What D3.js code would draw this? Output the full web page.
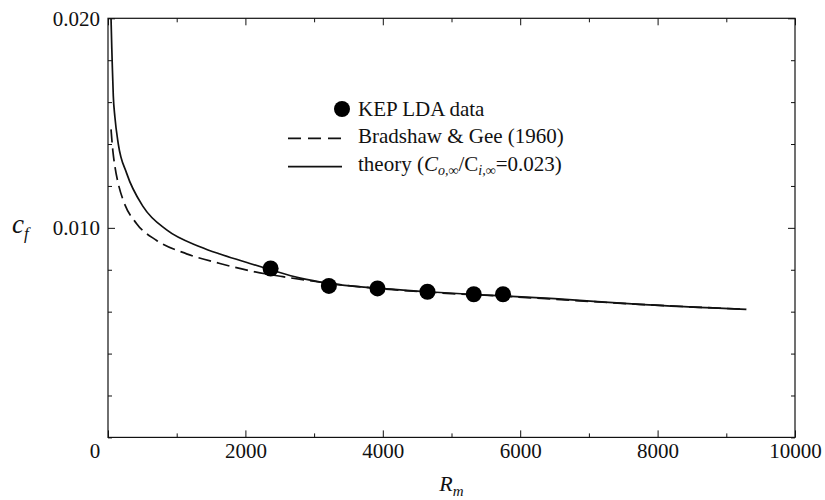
<!DOCTYPE html>
<html><head><meta charset="utf-8">
<script src="https://cdn.jsdelivr.net/npm/d3@7"></script>
<style>body{margin:0;background:#fff}</style>
</head><body><svg id="c" width="825" height="500"></svg>
<script>
// ---- data ----
const kepR  = [2367, 3215, 3923, 4650, 5324, 5750];
const kepCf = [0.00806, 0.00723, 0.00711, 0.00695, 0.00683, 0.00683];

const theoryR  = [44, 55, 63, 77, 100, 150, 272, 514, 854, 1338, 1629, 2065, 2367, 2800, 3215, 3923, 4650, 5324, 5750, 6500, 7738, 9290];
const theoryCf = [0.0200, 0.0186, 0.0177, 0.0163, 0.0153, 0.0140, 0.0126, 0.0110, 0.0099, 0.0091, 0.00875, 0.0083, 0.0080, 0.0076, 0.00735, 0.00712, 0.00695, 0.00682, 0.00675, 0.00662, 0.00635, 0.00611];

const bgR  = [44, 70, 102, 150, 223, 417, 708, 1144, 1629, 2065, 2545, 2865, 3490, 4145, 4650, 5750, 7738, 9290];
const bgCf = [0.0147, 0.0137, 0.0129, 0.0121, 0.0113, 0.0102, 0.0094, 0.00876, 0.0083, 0.00795, 0.00767, 0.00751, 0.00725, 0.00705, 0.00693, 0.00674, 0.00635, 0.00611];

const xMajor = [0, 2000, 4000, 6000, 8000, 10000];
const xMinor = [1000, 3000, 5000, 7000, 9000];
const yMajor = [0.010, 0.020];
const yMinor = [0, 0.002, 0.004, 0.006, 0.008, 0.012, 0.014, 0.016, 0.018];
const legendLabels = ["KEP LDA data", "Bradshaw & Gee (1960)"];

// ---- layout ----
const svg = d3.select("#c");
const L = 108, R = 795, T = 18.3, B = 437.4;
const x = d3.scaleLinear().domain([0, 10000]).range([L, R]);
const y = d3.scaleLinear().domain([0, 0.020]).range([B, T]);
const ink = "#111";
const FONT = "Liberation Serif";

svg.append("defs").append("clipPath").attr("id", "clip")
  .append("rect").attr("x", L).attr("y", T).attr("width", R - L).attr("height", B - T);

function styleAxis(g) {
  g.select(".domain").remove();
  g.selectAll("line").attr("stroke", ink).attr("stroke-width", 1);
  g.selectAll("text").style("font-family", FONT).style("font-size", "21px").attr("fill", ink);
}

// bottom axis
svg.append("g").attr("transform", `translate(0,${B})`)
  .call(d3.axisBottom(x).tickValues(xMajor).tickSize(-7).tickPadding(6)
    .tickFormat(d => d === 0 ? "" : d3.format("d")(d)))
  .call(styleAxis);
svg.append("g").attr("transform", `translate(0,${B})`)
  .call(d3.axisBottom(x).tickValues(xMinor).tickSize(-4).tickFormat(""))
  .call(styleAxis);
// top axis
svg.append("g").attr("transform", `translate(0,${T})`)
  .call(d3.axisTop(x).tickValues(xMajor).tickSize(-7).tickFormat(""))
  .call(styleAxis);
svg.append("g").attr("transform", `translate(0,${T})`)
  .call(d3.axisTop(x).tickValues(xMinor).tickSize(-4).tickFormat(""))
  .call(styleAxis);
// left axis
svg.append("g").attr("transform", `translate(${L},0)`)
  .call(d3.axisLeft(y).tickValues(yMajor).tickSize(-7).tickPadding(8).tickFormat(d3.format(".3f")))
  .call(styleAxis);
svg.append("g").attr("transform", `translate(${L},0)`)
  .call(d3.axisLeft(y).tickValues(yMinor).tickSize(-4).tickFormat(""))
  .call(styleAxis);
// right axis
svg.append("g").attr("transform", `translate(${R},0)`)
  .call(d3.axisRight(y).tickValues(yMajor).tickSize(-7).tickFormat(""))
  .call(styleAxis);
svg.append("g").attr("transform", `translate(${R},0)`)
  .call(d3.axisRight(y).tickValues(yMinor).tickSize(-4).tickFormat(""))
  .call(styleAxis);

// frame
svg.append("rect").attr("x", L).attr("y", T).attr("width", R - L).attr("height", B - T)
  .attr("fill", "none").attr("stroke", ink).attr("stroke-width", 1.2);

function txt(sel) { return sel.style("font-family", FONT).attr("fill", ink); }

// origin label
txt(svg.append("text")).attr("x", 95).attr("y", 458).attr("text-anchor", "middle")
  .style("font-size", "21px").text("0");

// axis titles
const xt = txt(svg.append("text")).attr("x", x(5000)).attr("y", 491).attr("text-anchor", "middle")
  .style("font-size", "22px");
xt.append("tspan").style("font-style", "italic").text("R");
xt.append("tspan").style("font-style", "italic").style("font-size", "15px").attr("dy", 5).text("m");

const yt = txt(svg.append("text")).attr("x", 12).attr("y", 233).style("font-size", "27px");
yt.append("tspan").style("font-style", "italic").text("c");
yt.append("tspan").style("font-style", "italic").style("font-size", "17px").attr("dy", 6).text("f");

// curves
const line = d3.line().x(d => x(d[0])).y(d => y(d[1])).curve(d3.curveMonotoneX);
const plot = svg.append("g").attr("clip-path", "url(#clip)");
plot.append("path").datum(bgR.map((r, i) => [r, bgCf[i]]))
  .attr("d", line).attr("fill", "none").attr("stroke", ink).attr("stroke-width", 1.7)
  .attr("stroke-dasharray", "13,6");
plot.append("path").datum(theoryR.map((r, i) => [r, theoryCf[i]]))
  .attr("d", line).attr("fill", "none").attr("stroke", ink).attr("stroke-width", 1.7);
plot.selectAll("circle.kep").data(kepR.map((r, i) => [r, kepCf[i]])).enter()
  .append("circle").attr("class", "kep")
  .attr("cx", d => x(d[0])).attr("cy", d => y(d[1])).attr("r", 8).attr("fill", "#000");

// legend
const lg = svg.append("g");
lg.append("circle").attr("cx", 342).attr("cy", 109).attr("r", 8).attr("fill", "#000");
txt(lg.append("text")).attr("x", 358).attr("y", 115.5).style("font-size", "21px").text(legendLabels[0]);
lg.append("line").attr("x1", 288).attr("x2", 342).attr("y1", 138.3).attr("y2", 138.3)
  .attr("stroke", ink).attr("stroke-width", 1.7).attr("stroke-dasharray", "13,7");
txt(lg.append("text")).attr("x", 358).attr("y", 143).style("font-size", "21px").text(legendLabels[1]);
lg.append("line").attr("x1", 288).attr("x2", 342).attr("y1", 166.7).attr("y2", 166.7)
  .attr("stroke", ink).attr("stroke-width", 1.7);
const th = txt(lg.append("text")).attr("x", 358).attr("y", 171).style("font-size", "21px");
th.append("tspan").text("theory (");
th.append("tspan").style("font-style", "italic").text("C");
th.append("tspan").style("font-style", "italic").style("font-size", "14px").attr("dy", 4).text("o,∞");
th.append("tspan").attr("dy", -4).text("/C");
th.append("tspan").style("font-style", "italic").style("font-size", "14px").attr("dy", 4).text("i,∞");
th.append("tspan").attr("dy", -4).text("=0.023)");
</script>
</body></html>
